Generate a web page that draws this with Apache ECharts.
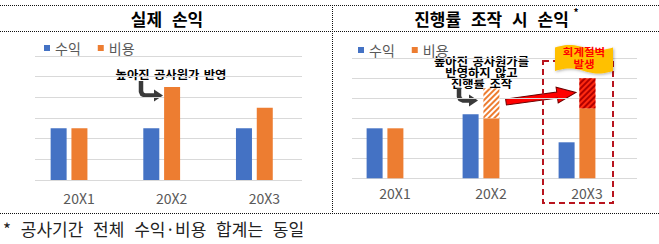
<!DOCTYPE html>
<html><head><meta charset="utf-8">
<script src="https://cdn.jsdelivr.net/npm/echarts@6/dist/echarts.min.js"></script>
<style>html,body{margin:0;padding:0;background:#fff}#c{width:659px;height:244px}
#c svg text{word-spacing:6px}
#c svg text[style*="11px"]{word-spacing:1.5px}
</style>
</head><body><div id="c"></div><script>
// ---- data ----
const categories = ['20X1', '20X2', '20X3'];
const legendNames = ['수익', '비용'];
const actualRevenue = [2.5, 2.5, 2.5];
const actualCost = [2.5, 4.5, 3.5];
const manipRevenue = [2.5, 3.2, 1.8];
const manipCost = [2.5, 3.0, 3.5];
const manipShifted = [null, 1.5, 1.5];
const titles = ['실제 손익', '진행률 조작 시 손익'];
const noteLeft = '높아진 공사원가 반영';
const noteRight = ['높아진 공사원가를', '반영하지 않고', '진행률 조작'];
const flagText = ['회계절벽', '발생'];
const footnote = '* 공사기간 전체 수익·비용 합계는 동일';
const yMin = 0, yMax = 6, yStep = 1;

const BLUE = '#4472C4', ORANGE = '#ED7D31';
const FONT = '"Noto Sans CJK KR", "Noto Sans", sans-serif';
const chart = echarts.init(document.getElementById('c'), null, {renderer: 'svg'});

const gridAxisY = (gi) => ({gridIndex: gi, type: 'value', min: yMin, max: yMax, interval: yStep,
  axisLabel: {show: false}, axisLine: {show: false}, axisTick: {show: false},
  splitLine: {show: true, lineStyle: {color: '#d9d9d9', width: 1}}});
const barAxisY = (gi) => ({gridIndex: gi, type: 'value', min: yMin, max: yMax, interval: yStep, show: false});
const hiddenX = (gi) => ({gridIndex: gi, type: 'category', data: categories, show: false});
const barX = (gi, margin) => ({gridIndex: gi, type: 'category', data: categories,
  axisLine: {show: false}, axisTick: {show: false},
  axisLabel: {color: '#595959', fontSize: 14, fontFamily: FONT, margin: margin, padding: [0, 0, 0, 20]}});

const legendCommon = {icon: 'rect', itemWidth: 6, itemHeight: 6, itemGap: 17, data: legendNames,
  textStyle: {color: '#595959', fontSize: 14, fontFamily: FONT}, selectedMode: false};

function dotted(x1, y1, x2, y2) {
  return {type: 'line', silent: true, shape: {x1, y1, x2, y2}, style: {stroke: '#111', lineWidth: 1, lineDash: [1, 1]}};
}
function txt(text, x, y, size, weight, color, align, sx) {
  return {type: 'text', silent: true, x: x, y: y, scaleX: sx || 1, style: {text, x: 0, y: 0, fill: color || '#000',
    font: (weight || 'normal') + ' ' + size + 'px ' + FONT, textAlign: align || 'center', textVerticalAlign: 'middle'}};
}
function bentArrow(x, yTop, yBot, xEnd) {
  return [
    {type: 'polyline', silent: true, shape: {points: [[x, yTop], [x, yBot - 4], [x + 1.2, yBot - 1.2], [x + 4, yBot], [xEnd - 7, yBot]]},
      style: {stroke: '#3a3a3a', lineWidth: 4.5, fill: null, lineJoin: 'round'}},
    {type: 'polygon', silent: true, shape: {points: [[xEnd - 9, yBot - 6], [xEnd, yBot], [xEnd - 9, yBot + 6]]},
      style: {fill: '#3a3a3a'}}
  ];
}
const arrL = 70.6;
const redArrow = {type: 'polygon', silent: true, x: 506, y: 102, rotation: Math.atan2(9.5, 70),
  shape: {points: [[0, -3], [arrL - 19, -3], [arrL - 19, -8], [arrL, 0], [arrL - 19, 8], [arrL - 19, 3], [0, 3]]},
  style: {fill: '#ff0000', stroke: '#6b0000', lineWidth: 1}};

// wavy banner outline
const flagPts = [];
const fx0 = 555, fx1 = 613, N = 24;
for (let i = 0; i <= N; i++) { const t = i / N; flagPts.push([fx0 + t * (fx1 - fx0), 47.5 - 2.5 * Math.sin(2 * Math.PI * t)]); }
for (let i = N; i >= 0; i--) { const t = i / N; flagPts.push([fx0 + t * (fx1 - fx0), 71 - 2.5 * Math.sin(2 * Math.PI * t)]); }

const option = {
  animation: false,
  backgroundColor: '#fff',
  grid: [
    {left: 35, top: 56, width: 267, height: 124},
    {left: 22.7, top: 56, width: 278, height: 124},
    {left: 352, top: 58.3, width: 285, height: 120},
    {left: 337, top: 58.3, width: 288, height: 120}
  ],
  xAxis: [hiddenX(0), barX(1, 11), hiddenX(2), barX(3, 8)],
  yAxis: [gridAxisY(0), barAxisY(1), gridAxisY(2), barAxisY(3)],
  legend: [
    Object.assign({left: 39, top: 36}, legendCommon),
    Object.assign({left: 353, top: 38}, legendCommon)
  ],
  series: [
    {name: legendNames[0], type: 'bar', xAxisIndex: 1, yAxisIndex: 1, data: actualRevenue, barWidth: 16, barGap: '30%', itemStyle: {color: BLUE}},
    {name: legendNames[1], type: 'bar', xAxisIndex: 1, yAxisIndex: 1, data: actualCost, barWidth: 16, barGap: '30%', itemStyle: {color: ORANGE}},
    {name: legendNames[0], type: 'bar', xAxisIndex: 3, yAxisIndex: 3, data: manipRevenue, barWidth: 16, barGap: '30%', itemStyle: {color: BLUE}},
    {name: legendNames[1], type: 'bar', xAxisIndex: 3, yAxisIndex: 3, stack: 'cost', data: manipCost, barWidth: 16, barGap: '30%', itemStyle: {color: ORANGE}},
    {name: 'shifted', type: 'bar', xAxisIndex: 3, yAxisIndex: 3, stack: 'cost', barWidth: 16, barGap: '30%',
      data: manipShifted.map((v, i) => v == null ? null : {value: v, itemStyle: i === 1
        ? {color: '#ffffff', decal: {symbol: 'rect', symbolSize: 1, color: ORANGE, dashArrayX: [1, 0], dashArrayY: [2, 2], rotation: -Math.PI / 4}}
        : {color: '#ff2a10', decal: {symbol: 'rect', symbolSize: 1, color: '#b00000', dashArrayX: [1, 0], dashArrayY: [2, 2], rotation: -Math.PI / 4}}})}
  ],
  graphic: [
    dotted(0, 5.5, 659, 5.5),
    dotted(0, 31.5, 659, 31.5),
    dotted(332.5, 5, 332.5, 213),
    dotted(0, 213.5, 659, 213.5),
    txt(titles[0], 167, 18, 17, 'bold'),
    txt(titles[1], 491.5, 18, 17, 'bold'),
    txt('*', 576, 11, 10, 'bold'),
    txt(noteLeft, 171, 74, 11, 'bold', '#000', 'center', 1.12),
    txt(noteRight[0], 481.5, 60.5, 11, 'bold', '#000', 'center', 1.12),
    txt(noteRight[1], 481.5, 71.5, 11, 'bold', '#000', 'center', 1.12),
    txt(noteRight[2], 481.5, 82.5, 11, 'bold', '#000', 'center', 1.12),
    ...bentArrow(141, 81, 95.5, 163),
    ...bentArrow(459, 88, 100.5, 478),
    redArrow,
    {type: 'rect', silent: true, shape: {x: 543, y: 61, width: 70, height: 142},
      style: {fill: null, stroke: '#b8141e', lineWidth: 2, lineDash: [6, 4]}},
    {type: 'polygon', silent: true, z: 100, shape: {points: flagPts},
      style: {fill: '#ffc000', shadowBlur: 3, shadowColor: 'rgba(0,0,0,0.3)', shadowOffsetX: 1, shadowOffsetY: 1}},
    Object.assign(txt(flagText[0], 584, 52, 10, 'bold', '#ff0000', 'center', 1.15), {z: 101}),
    Object.assign(txt(flagText[1], 584, 64, 10, 'bold', '#ff0000', 'center', 1.15), {z: 101}),
    txt(footnote, 3, 228.5, 17, 'normal', '#222', 'left')
  ]
};
chart.setOption(option);
</script></body></html>
